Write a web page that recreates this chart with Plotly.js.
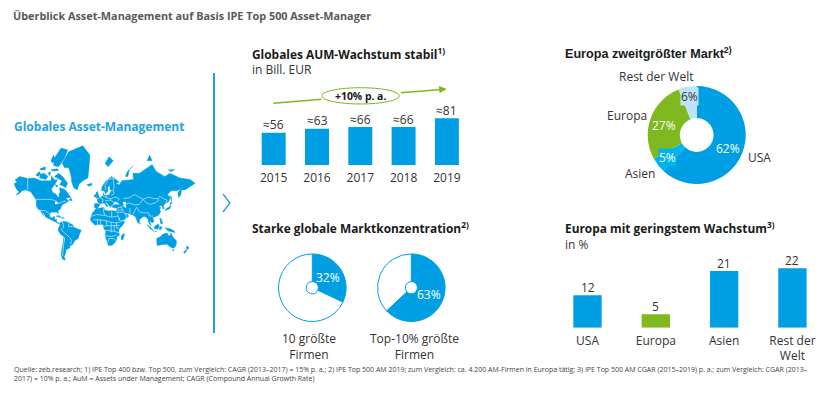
<!DOCTYPE html>
<html><head><meta charset="utf-8">
<script src="https://cdn.plot.ly/plotly-3.0.1.min.js"></script>
<style>html,body{margin:0;padding:0;background:#fff}#c{width:825px;height:404px}</style>
</head><body><div id="c"></div>
<script>
// ---- data ----
const aumYears = ['2015','2016','2017','2018','2019'];
const aumValues = [56,63,66,66,81];
const regionLabels = ['USA','Asien','Europa','Rest der Welt'];
const regionShares = [62,5,27,6];
const top10Shares = [32,68];
const top10PctShares = [63,37];
const growthLabels = ['USA','Europa','Asien','Rest der<br>Welt'];
const growthValues = [12,5,21,22];

// map outlines: longitude / latitude rings
const land = [
 [[-168,65.6],[-162,67],[-166,68.5],[-157,71],[-141,69.7],[-128,70],[-115,68],[-108,68],[-95,68],[-94,71.5],[-88,68.5],[-82,69],[-86,66],[-94,61],[-92,57.5],[-85,55.3],[-82,52.5],[-79,51.5],[-79,55],[-77,58],[-78,62],[-70,61],[-65,59],[-60,55],[-56,52],[-66,50],[-60,47],[-65,44],[-70,43],[-74,40],[-76,35],[-81,31],[-80,25.5],[-83,29],[-89,30],[-94,29.5],[-97.5,26],[-97,20],[-91,18.5],[-90,21],[-87,21],[-88,16],[-83.5,15],[-83.5,10],[-79,9],[-78,8],[-80,7.5],[-85,10],[-92,14.5],[-96,16],[-105,20],[-109,26],[-113,31],[-110,23],[-115,30],[-117,33],[-121,35],[-124,40],[-124,48],[-130,54],[-135,58],[-145,60],[-152,59],[-158,56],[-164,54.5],[-158,58],[-162,60],[-165,62.5]],
 [[-80,73],[-72,71],[-62,66],[-66,62],[-72,64],[-78,65],[-73,68],[-88,71]],
 [[-90,77],[-88,80],[-75,83],[-62,82.5],[-68,80],[-76,78],[-80,76.5]],
 [[-125,72],[-118,74],[-116,73],[-120,71]],
 [[-117,70],[-105,69],[-101,71],[-108,73],[-117,72.5]],
 [[-95,75],[-82,75.5],[-80,74.5],[-92,74.3]],
 [[-95,79],[-90,81],[-86,79.5],[-92,78]],
 [[-117,75.5],[-106,76.5],[-106,75],[-115,74.8]],
 [[-87,65],[-81,64],[-84,62.5]],
 [[-101,73],[-96,74],[-97,71.5]],
 [[-59,47.7],[-56,51.5],[-53,47],[-55.5,47]],
 [[-85,22],[-80,23],[-74.5,20],[-78,20]],
 [[-74,19.5],[-69,19.5],[-68.5,18.3],[-74,18]],
 [[-73,78],[-60,82],[-32,83.5],[-18,81],[-20,75],[-22,70],[-32,68],[-40,65],[-43,60],[-50,62],[-54,67],[-55,71],[-60,76],[-68,76]],
 [[-78,8],[-72,12],[-62,10.5],[-52,5],[-50,0],[-44,-2.5],[-35,-6],[-39,-15],[-41,-22],[-48,-26],[-53,-34],[-58,-35],[-57,-38],[-65,-41],[-66,-46],[-69,-51],[-66,-55],[-72,-54],[-75,-48],[-73,-38],[-71,-30],[-70,-18],[-76,-14],[-81,-6],[-80,-1],[-77,4]],
 [[-6,35.5],[10,37],[11,33],[20,31],[25,32],[32,31],[35,28],[37,21],[39,15],[43,11.5],[51,12],[47,4],[40,-3],[39,-10],[40.5,-15],[35,-20],[35,-24],[32,-29],[26,-34],[18.5,-34.5],[15,-27],[12,-17],[13.5,-9],[9,-1],[9,4],[5,6],[-4,5],[-8,4.5],[-13,9],[-17,14.5],[-16,21],[-13,27.5],[-9,32]],
 [[49.5,-12],[50,-16],[47,-25],[44,-24],[44,-17]],
 [[-9,37],[-9,43],[-1,43.5],[-4,48.5],[3,51],[8,54],[8.5,57],[11,54],[20,54.5],[24,59],[30,60],[22,60],[21,64],[24,66],[17,62],[18,59],[13,55.5],[10.5,59],[5,59],[6,63],[14,68],[25,71],[40,67],[34,66],[40,64.5],[45,68],[60,69],[68,69],[67,73],[80,73],[105,77.5],[113,74],[130,71],[140,73],[160,70],[180,69],[190,66],[179,62.5],[170,60],[163,60],[162,55],[157,51],[156,57],[163,62],[155,59],[142,59],[135,54.5],[141,52],[138,46],[130,42.5],[127,39.5],[129,35.5],[126,34.5],[125,39.5],[121,40],[118,38],[122,37],[120,33],[122,30],[117,23],[110,21],[106,19],[109,12],[105,9],[100,13],[103,2],[100,6],[98,10],[97,16],[92,21],[87,21],[80,15],[80,10],[77,8],[73,18],[72,21],[67,24],[57,25.5],[56,27],[51,28],[48,30],[50,26],[56,25],[59,22],[52,16],[43,13],[39,21],[35,28],[34,31],[36,36],[30,36.5],[27,37],[26,40],[33,42],[41,41],[37,45],[31,46],[28,42],[26,40.5],[23,40],[23,36.5],[19,41],[14,45],[12.5,44],[18,40],[16,38],[10,44],[3,43],[0,39],[-2,36.8],[-5.5,36]],
 [[-5,50],[1,51],[-2,56],[-3,58.5],[-6,57]],
 [[-10,52],[-6,52],[-6,55],[-9,54.5]],
 [[-24,65],[-14,66],[-14,64.5],[-20,63.5]],
 [[12,78],[20,80.5],[28,79],[18,76.5]],
 [[52,71],[56,74],[68,77],[60,75],[57,71]],
 [[95,79],[105,79],[100,81]],
 [[137,75],[150,75],[142,74]],
 [[142,54],[143.5,50],[143,46],[142,48]],
 [[130,32],[136,34],[140,35],[142,40],[141,41.5],[139,38],[133,35.5]],
 [[140,42],[145,43.5],[142,45.5]],
 [[120,18],[122,18],[124,13],[126,7],[122,7],[120,14]],
 [[95,5.5],[104,-2],[106,-6],[101,-3]],
 [[105,-6.5],[114,-7.5],[114,-8.5],[106,-7.8]],
 [[109,1],[117,7],[119,1],[116,-4],[110,-3]],
 [[119,-5],[120,1],[125,1],[122,-5]],
 [[131,-1],[141,-3],[148,-7],[150,-10.5],[143,-9],[138,-8],[133,-4]],
 [[114,-22],[122,-18],[126,-14],[131,-12],[136,-12],[136,-15],[140,-17.5],[142,-11],[146,-19],[153,-26],[153,-32],[150,-37.5],[144,-38.5],[138,-35],[134,-32.5],[124,-33],[115,-34.5],[114,-26]],
 [[145,-41],[148,-41],[147,-43.5]],
 [[173,-35],[178,-38],[175,-41],[173,-39]],
 [[172,-41],[174,-42],[169,-46.5],[167,-45]],
 [[80,9.5],[82,7],[80.5,6]]
];
const inlandSeas = [
 [[47,45],[53,46],[53,40],[54,37],[50,37],[49,40]],
 [[-87,46],[-84,46],[-80,44],[-83,42],[-87,42]]
];
const borders = [
 [[-124,49],[-95,49],[-83,46],[-79,43],[-75,45],[-67,47],[-67,45]],
 [[-141,69.7],[-141,60]],
 [[-117,32.5],[-106,31.5],[-97.5,26]],
 [[48,50],[60,51],[70,55],[80,51],[87,49],[98,52],[108,50],[117,50],[120,53],[127,50],[135,48],[131,43]],
 [[87,49],[92,45],[100,42],[111,44],[117,47],[117,50]],
 [[74,38],[80,30],[88,28],[98,28],[100,22],[107,22]],
 [[52,42],[60,44],[70,41],[80,42],[87,49]],
 [[44,38],[46,33],[48,30]],[[61,36],[61,26]],[[74,37],[70,30],[67,25]],
 [[-17,21],[-5,25],[12,23],[25,20],[25,31]],[[25,20],[37,22]],
 [[-12,15],[3,15],[14,13],[24,10],[34,9],[43,11]],[[10,37],[9,30],[12,23]],
 [[14,13],[16,3],[9,2]],[[16,3],[30,4],[41,4]],[[12,-6],[30,-8],[40,-11]],
 [[12,-17],[25,-18],[35,-16]],[[17,-29],[20,-22],[29,-22],[32,-26]],[[30,4],[30,-8]],
 [[24,10],[24,-10]],[[-3,5],[-3,15]],[[3,15],[3,6]],[[34,9],[35,-1],[40,-3]],
 [[-72,12],[-70,0],[-75,-5],[-70,-10],[-58,-20],[-54,-26],[-57,-30],[-53,-33]],
 [[-70,-18],[-68,-23],[-70,-33],[-72,-50]],[[-60,8],[-60,1],[-52,2]],
 [[-2,43],[3,42.5]],[[3,51],[8,49],[7,44]],[[7,54],[15,51],[14,54]],
 [[15,51],[24,50],[22,48],[29,45]],[[24,50],[32,52],[40,50],[38,47]],[[24,54],[30,56],[28,60]],
 [[12,47],[22,48]],[[14,69],[20,69],[28,70],[30,62],[28,60]],[[13,60],[12,64],[18,69]],
 [[36,33],[46,33]],[[36,36],[44,38]],[[35,29],[48,29]],[[44,38],[48,40]],[[52,16],[55,22],[51,25]]
];

// ---- helpers ----
const W = 825, H = 404;
const px = x => x / W, py = y => 1 - y / H;
const merc = lat => Math.log(Math.tan(Math.PI / 4 + lat * Math.PI / 360));
function rings(list) {
  const x = [], y = [];
  list.forEach(r => { r.forEach(p => { x.push(p[0]); y.push(merc(p[1])); }); x.push(null); y.push(null); });
  return {x, y};
}
function closed(list) { return list.map(r => r.concat([r[0]])); }

// ---- styles ----
const BLUE = '#009FE3', GREEN = '#7FB81F', LBLUE = '#BEE3F8', CYAN = '#00B4EC', TXT = '#333333';
const F = 'Open Sans, sans-serif', ARIAL = 'Liberation Sans, Arial, sans-serif';
const pieBase = {type: 'pie', sort: false, direction: 'clockwise', rotation: 0, textinfo: 'none', hoverinfo: 'skip', showlegend: false};
const disc = (cx, cy, r) => ({x: [px(cx - r), px(cx + r)], y: [py(cy + r), py(cy - r)]});

const landXY = rings(closed(land)), seaXY = rings(closed(inlandSeas)), borderXY = rings(borders);

const traces = [
  {type: 'scatter', mode: 'lines', x: landXY.x, y: landXY.y, xaxis: 'x3', yaxis: 'y3', fill: 'toself', fillcolor: BLUE,
   line: {color: BLUE, width: 0.4}, hoverinfo: 'skip', showlegend: false},
  {type: 'scatter', mode: 'lines', x: seaXY.x, y: seaXY.y, xaxis: 'x3', yaxis: 'y3', fill: 'toself', fillcolor: '#fff',
   line: {color: '#fff', width: 0}, hoverinfo: 'skip', showlegend: false},
  {type: 'scatter', mode: 'lines', x: borderXY.x, y: borderXY.y, xaxis: 'x3', yaxis: 'y3',
   line: {color: '#CFEBFA', width: 0.7}, hoverinfo: 'skip', showlegend: false},
  {type: 'bar', x: aumYears, y: aumValues, width: 0.554, marker: {color: BLUE}, hoverinfo: 'skip', showlegend: false},
  {type: 'bar', x: growthLabels, y: growthValues, xaxis: 'x2', yaxis: 'y2', width: 0.415,
   marker: {color: [BLUE, GREEN, BLUE, BLUE]}, hoverinfo: 'skip', showlegend: false},
  Object.assign({}, pieBase, {values: regionShares, labels: regionLabels, hole: 0.345, domain: disc(696.7, 135, 49),
   marker: {colors: [BLUE, CYAN, GREEN, LBLUE], line: {width: 0}}}),
  Object.assign({}, pieBase, {values: top10Shares, labels: ['Anteil','Rest'], hole: 0.18, domain: disc(312.3, 287.7, 33.8),
   marker: {colors: [BLUE, '#ffffff'], line: {color: BLUE, width: 1}}}),
  Object.assign({}, pieBase, {values: top10PctShares, labels: ['Anteil','Rest'], hole: 0.18, domain: disc(411.3, 287.7, 33.8),
   marker: {colors: [BLUE, '#ffffff'], line: {color: BLUE, width: 1}}})
];

const note = (x, y, text, o) => Object.assign({xref: 'paper', yref: 'paper', x: px(x), y: py(y), text: text, showarrow: false,
  xanchor: 'left', yanchor: 'middle', borderpad: 0, font: Object.assign({family: F, size: 12, color: TXT}, (o && o.font) || {})}, o ? (({font, ...rest}) => rest)(o) : {});
const head = (x, y, text, fam, size) => note(x, y, '<b>' + text + '</b>', {font: {family: fam || F, size: size || 11.9, color: '#1a1a1a'}});
const mid = (x, y, text, o) => note(x, y, text, Object.assign({xanchor: 'center'}, o || {}));
const SMALL = {family: F, size: 7, color: '#444'};
const valueLabel = (xa, ya, x, y, text) => ({xref: xa, yref: ya, x: x, y: y, text: text, showarrow: false, xanchor: 'center', yanchor: 'middle',
  yshift: 7.8, font: {family: F, size: 12, color: TXT}});

const annotations = [
  note(11.5, 15, '<b>Überblick Asset-Management auf Basis IPE Top 500 Asset-Manager</b>', {font: {size: 10.85, color: '#595959'}}),
  note(12.5, 126, '<b>Globales Asset-Management</b>', {font: {size: 12, color: '#1EA3E4'}}),
  head(251, 53, 'Globales AUM-Wachstum stabil<sup>1)</sup>'),
  note(251, 69, 'in Bill. EUR'),
  head(251, 228, 'Starke globale Marktkonzentration<sup>2)</sup>'),
  head(563.5, 53, 'Europa zweitgrößter Markt<sup>2)</sup>', ARIAL, 12.6),
  head(563.5, 228, 'Europa mit geringstem Wachstum<sup>3)</sup>'),
  note(563.5, 244, 'in %'),
  mid(360.5, 95.8, '<b>+10% p. a.</b>', {font: {size: 10.4, color: '#1a1a1a'}}),
  {xref: 'paper', yref: 'paper', x: px(446.7), y: py(89), axref: 'pixel', ayref: 'pixel', ax: -47.4, ay: 3.9, text: '', showarrow: true,
   arrowhead: 2, arrowsize: 1, arrowwidth: 1.5, arrowcolor: GREEN},
  mid(655.8, 77, regionLabels[3]),
  mid(626.8, 115, regionLabels[2]),
  mid(759, 157.7, regionLabels[0]),
  mid(640, 173.3, regionLabels[1]),
  mid(689.3, 96.7, regionShares[3] + '%', {bgcolor: LBLUE}),
  mid(664.3, 125, regionShares[2] + '%', {font: {color: '#fff'}}),
  mid(667.7, 157.3, regionShares[1] + '%', {bgcolor: CYAN, font: {color: '#fff'}}),
  mid(728.3, 148.3, regionShares[0] + '%', {font: {color: '#fff'}}),
  mid(328.3, 277.3, top10Shares[0] + '%', {font: {color: '#fff'}}),
  mid(428.7, 294.3, top10PctShares[0] + '%', {font: {color: '#fff'}}),
  mid(309.3, 346.5, '10 größte<br>Firmen'),
  mid(414.3, 346.5, 'Top-10% größte<br>Firmen'),
  note(12.5, 369, 'Quelle: zeb.research; 1) IPE Top 400 bzw. Top 500, zum Vergleich: CAGR (2013–2017) = 15% p. a.; 2) IPE Top 500 AM 2019; zum Vergleich: ca. 4.200 AM-Firmen in Europa tätig; 3) IPE Top 500 AM CGAR (2015–2019) p. a.; zum Vergleich: CGAR (2013–', {font: SMALL}),
  note(12.5, 378, '2017) = 10% p. a.; AuM = Assets under Management; CAGR (Compound Annual Growth Rate)', {font: SMALL})
].concat(
  aumValues.map((v, i) => valueLabel('x', 'y', i, v, '≈' + v)),
  growthValues.map((v, i) => valueLabel('x2', 'y2', i, v, String(v)))
);

const shapes = [
  {type: 'line', xref: 'paper', yref: 'paper', x0: px(214), x1: px(214), y0: py(73), y1: py(333), line: {color: '#1E9FE0', width: 2}},
  {type: 'path', xref: 'paper', yref: 'paper', path: `M ${px(223)} ${py(194)} L ${px(230)} ${py(203)} L ${px(223)} ${py(212)}`, line: {color: '#1E9FE0', width: 1.3}},
  {type: 'line', xref: 'paper', yref: 'paper', x0: px(273.3), x1: px(321.7), y0: py(103.3), y1: py(99.3), line: {color: GREEN, width: 1.5}},
  {type: 'circle', xref: 'paper', yref: 'paper', x0: px(321.7), x1: px(399.3), y0: py(104), y1: py(87.7), fillcolor: '#fff', line: {color: GREEN, width: 1}}
];

const hidden = {visible: false, fixedrange: true};
const catAxis = {type: 'category', showgrid: false, zeroline: false, showline: false, ticks: '', ticklabelstandoff: 4, fixedrange: true, tickfont: {family: F, size: 12, color: TXT}};

const layout = {
  width: W, height: H, margin: {l: 0, r: 0, t: 0, b: 0}, paper_bgcolor: '#fff', plot_bgcolor: 'rgba(0,0,0,0)',
  showlegend: false, bargap: 0.4,
  xaxis: Object.assign({}, catAxis, {domain: [px(252.05), px(468.55)], range: [-0.5, 4.5], anchor: 'y'}),
  yaxis: Object.assign({}, hidden, {domain: [py(165), py(105)], range: [0, 104], anchor: 'x'}),
  xaxis2: Object.assign({}, catAxis, {domain: [px(553.35), 1], range: [-0.5, 3.477], anchor: 'y2'}),
  yaxis2: Object.assign({}, hidden, {domain: [py(327.7), py(260)], range: [0, 25.07], anchor: 'x2'}),
  xaxis3: Object.assign({}, hidden, {domain: [0, px(200)], range: [-195.7, 199.6], anchor: 'y3'}),
  yaxis3: Object.assign({}, hidden, {domain: [py(270), py(140)], range: [-1.503, 3.073], anchor: 'x3'}),
  annotations, shapes
};
Plotly.newPlot('c', traces, layout, {displayModeBar: false, staticPlot: true});
</script>
</body></html>
